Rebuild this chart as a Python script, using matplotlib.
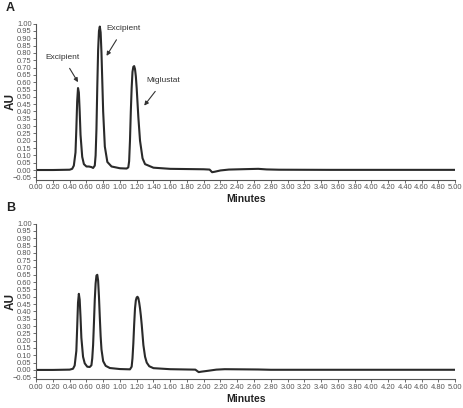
import numpy as np
import matplotlib
matplotlib.use("Agg")
import matplotlib.pyplot as plt

plt.rcParams['font.family'] = ['Liberation Sans', 'DejaVu Sans']

# trace A (minutes, AU)
time_a = [0.00, 0.20, 0.40, 0.43, 0.45, 0.47, 0.48, 0.49, 0.50, 0.51, 0.52, 0.53, 0.55, 0.57,
          0.60, 0.63, 0.66, 0.68, 0.70, 0.71, 0.72, 0.73, 0.74, 0.75, 0.76, 0.77, 0.78, 0.79,
          0.80, 0.82, 0.85, 0.90, 1.00, 1.08, 1.10, 1.11, 1.12, 1.13, 1.14, 1.15, 1.16, 1.17,
          1.18, 1.19, 1.20, 1.22, 1.24, 1.27, 1.30, 1.40, 1.60, 2.00, 2.07, 2.10, 2.13, 2.20,
          2.30, 2.50, 2.65, 2.75, 2.90, 3.50, 5.00]
au_a = [0.000, 0.000, 0.002, 0.008, 0.03, 0.12, 0.28, 0.47, 0.56, 0.53, 0.40, 0.24, 0.09, 0.04,
        0.024, 0.024, 0.020, 0.014, 0.03, 0.10, 0.28, 0.57, 0.82, 0.95, 0.98, 0.94, 0.80, 0.60,
        0.40, 0.16, 0.055, 0.024, 0.012, 0.010, 0.018, 0.06, 0.20, 0.40, 0.56, 0.67, 0.705, 0.71,
        0.69, 0.64, 0.56, 0.36, 0.20, 0.08, 0.04, 0.016, 0.008, 0.005, 0.003, -0.015, -0.012, -0.003,
        0.003, 0.006, 0.008, 0.004, 0.002, 0.001, 0.001]

# trace B
time_b = [0.00, 0.20, 0.40, 0.44, 0.46, 0.48, 0.49, 0.50, 0.51, 0.52, 0.53, 0.54, 0.56, 0.58,
          0.61, 0.64, 0.66, 0.67, 0.68, 0.69, 0.70, 0.71, 0.72, 0.73, 0.74, 0.75, 0.76, 0.77,
          0.78, 0.80, 0.83, 0.88, 1.00, 1.12, 1.14, 1.15, 1.16, 1.17, 1.18, 1.19, 1.20, 1.21,
          1.22, 1.23, 1.24, 1.25, 1.26, 1.27, 1.28, 1.30, 1.32, 1.35, 1.40, 1.60, 1.90, 1.94,
          1.97, 2.05, 2.15, 2.25, 2.45, 2.65, 2.80, 3.50, 5.00]
au_b = [0.000, 0.000, 0.002, 0.008, 0.03, 0.13, 0.29, 0.46, 0.52, 0.48, 0.36, 0.22, 0.09, 0.045,
        0.022, 0.020, 0.032, 0.08, 0.17, 0.32, 0.48, 0.59, 0.645, 0.65, 0.61, 0.50, 0.36, 0.23,
        0.14, 0.06, 0.028, 0.013, 0.006, 0.004, 0.022, 0.08, 0.18, 0.31, 0.42, 0.475, 0.495, 0.50,
        0.49, 0.46, 0.42, 0.37, 0.31, 0.24, 0.17, 0.09, 0.05, 0.025, 0.012, 0.005, 0.002, -0.015,
        -0.012, -0.006, 0.002, 0.005, 0.004, 0.003, 0.001, 0.001, 0.001]

x_ticks = np.arange(0, 5.01, 0.2)
y_ticks = np.arange(-0.05, 1.001, 0.05)

# (label, text position, arrow tip)
notes_a = [("Excipient", (0.32, 0.77), (0.50, 0.60)),
           ("Excipient", (1.04, 0.965), (0.84, 0.78)),
           ("Miglustat", (1.52, 0.61), (1.29, 0.44))]

fig = plt.figure(figsize=(4.63, 4.08), dpi=100)
ax_a = fig.add_axes([0.078, 0.560, 0.905, 0.382])
ax_b = fig.add_axes([0.078, 0.070, 0.905, 0.382])

line_col = '#2a2a2a'
tick_col = '#555555'

for ax, t, y, tag in [(ax_a, time_a, au_a, 'A'), (ax_b, time_b, au_b, 'B')]:
    ax.plot(t, y, color=line_col, lw=1.5)
    ax.set_xlim(0, 5.0)
    ax.set_ylim(-0.065, 1.0)
    ax.set_xticks(x_ticks)
    ax.set_xticklabels([f"{v:.2f}" for v in x_ticks])
    ax.set_yticks(y_ticks)
    ax.set_yticklabels([f"{v:.2f}".replace('-', '\u2212') for v in y_ticks])
    for s in ['top', 'right']:
        ax.spines[s].set_visible(False)
    for s in ['left', 'bottom']:
        ax.spines[s].set_color(tick_col)
        ax.spines[s].set_linewidth(0.8)
    ax.tick_params(axis='both', labelsize=5.4, colors=tick_col, length=2, width=0.6, pad=1.2)
    ax.set_xlabel("Minutes", fontsize=7.5, fontweight='bold', color='#222222', labelpad=2)
    ax.set_ylabel("AU", fontsize=8.5, fontweight='bold', color='#222222')
    ax.yaxis.set_label_coords(-0.047, 0.5)
    ax.text(-0.072, 1.10, tag, transform=ax.transAxes, fontsize=9, fontweight='bold',
            color='#222222', va='center', ha='left')

for label, txt, tip in notes_a:
    ax_a.annotate(label, xy=tip, xytext=txt, fontsize=6, color='#333333',
                  ha='center', va='center',
                  arrowprops=dict(arrowstyle='-|>', color='#333333', lw=0.8,
                                  mutation_scale=6, shrinkA=4, shrinkB=0))

fig.savefig("out.png", dpi=100)
